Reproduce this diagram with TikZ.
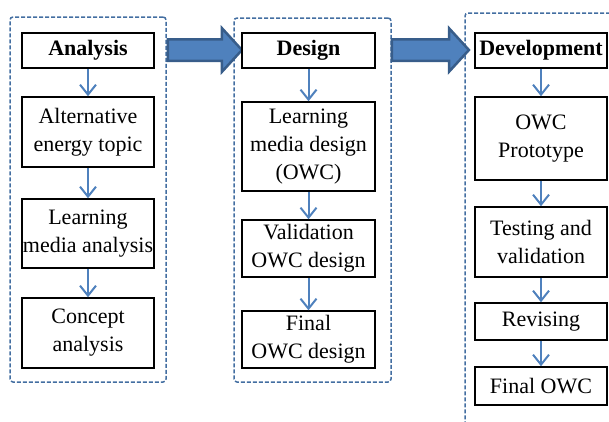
\documentclass[tikz,border=0pt]{standalone}
\usepackage{fontspec}
\setmainfont{Liberation Serif}
\usetikzlibrary{arrows.meta, shapes.arrows}
\definecolor{owcblue}{HTML}{4F81BD}
\definecolor{owcdark}{HTML}{385D8A}

\begin{document}
\begin{tikzpicture}[x=1pt, y=-1pt,
  stage/.style={draw=owcblue!85!black, line width=1.5pt, dash pattern=on 4pt off 2pt, rounded corners=3pt, inner sep=0pt},
  task/.style={draw, line width=1.5pt, fill=white, align=center, minimum width=132pt, inner sep=1pt, font=\fontsize{22}{28}\selectfont},
  head/.style={task, minimum height=35pt, font=\fontsize{22}{28}\selectfont\bfseries},
  arr/.style={-{Straight Barb[length=10pt,width=16pt]}, line width=2pt, owcblue},
  bigarr/.style={single arrow, draw=owcdark, fill=owcblue, line width=2.5pt, inner sep=0pt, text height=19pt, text depth=0pt, single arrow head extend=11pt, single arrow tip angle=95}
]
\clip (0,0) rectangle (609,421);

% dashed frames of the three stages
\node[stage, minimum width=156pt, minimum height=365pt] (fana) at (88,199.5) {};
\node[stage, minimum width=157pt, minimum height=364pt] (fdes) at (312.5,200) {};
\node[stage, minimum width=160pt, minimum height=428pt] (fdev) at (545,227) {};

% wide arrows between stages
\node[bigarr, minimum height=74pt] (go1) at (200,50) {};
\node[bigarr, minimum height=77pt] (go2) at (425.5,50) {};

% Analysis
\node[head] (ana) at (88,50.5) {Analysis};
\node[task, minimum height=70pt] (alt) at (88,132) {Alternative\\energy topic};
\node[task, minimum height=69pt] (lma) at (88,233.5) {Learning\\media analysis};
\node[task, minimum height=70pt] (con) at (88,333) {Concept\\analysis};
\draw[arr] (ana) -- (alt);
\draw[arr] (alt) -- (lma);
\draw[arr] (lma) -- (con);

% Design
\node[head, minimum width=133pt] (des) at (308.5,50.5) {Design};
\node[task, minimum width=133pt, minimum height=89pt] (lmd) at (308.5,146.5) {Learning\\media design\\(OWC)};
\node[task, minimum width=133pt, minimum height=57pt] (val) at (308.5,248.5) {Validation\\OWC design};
\node[task, minimum width=133pt, minimum height=57pt] (fin) at (308.5,339.5) {Final\\OWC design};
\draw[arr] (des) -- (lmd);
\draw[arr] (lmd) -- (val);
\draw[arr] (val) -- (fin);

% Development
\node[head] (dev) at (541,50.5) {Development};
\node[task, minimum height=83pt] (pro) at (541,138.5) {OWC\\Prototype};
\node[task, minimum height=70pt] (tes) at (541,242) {Testing and\\validation};
\node[task, minimum height=37pt] (rev) at (541,321.5) {Revising};
\node[task, minimum height=38pt] (owc) at (541,386) {Final OWC};
\draw[arr] (dev) -- (pro);
\draw[arr] (pro) -- (tes);
\draw[arr] (tes) -- (rev);
\draw[arr] (rev) -- (owc);
\end{tikzpicture}
\end{document}
